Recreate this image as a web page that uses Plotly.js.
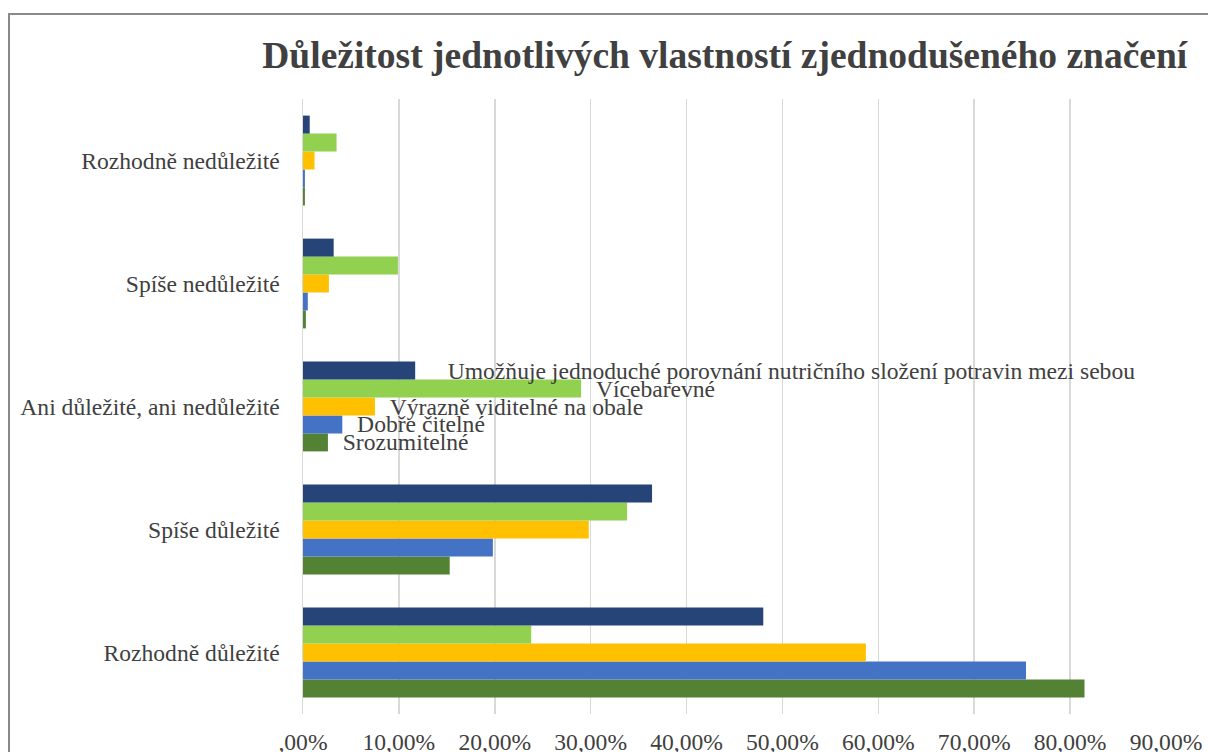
<!DOCTYPE html>
<html>
<head>
<meta charset="utf-8">
<script src="https://cdn.plot.ly/plotly-3.0.1.min.js"></script>
<style>
  html, body { margin: 0; padding: 0; background: #fff; overflow: hidden; }
  #chart { width: 1208px; height: 752px; }
  #frame { position: absolute; left: 8px; top: 13px; width: 1260px; height: 800px;
           border: 2px solid #8a8a8a; pointer-events: none; box-sizing: border-box; }
</style>
</head>
<body>
<div id="chart"></div>
<div id="frame"></div>
<script>
// Categories, bottom to top
const categories = [
  "Rozhodně důležité",
  "Spíše důležité",
  "Ani důležité, ani nedůležité",
  "Spíše nedůležité",
  "Rozhodně nedůležité"
];

// Series names (bottom bar in group first)
const seriesNames = [
  "Srozumitelné",
  "Dobře čitelné",
  "Výrazně viditelné na obale",
  "Vícebarevné",
  "Umožňuje jednoduché porovnání nutričního složení potravin mezi sebou"
];

// Values in percent, in category order above
const srozumitelne = [81.5, 15.3, 2.6, 0.3, 0.2];
const dobreCitelne = [75.4, 19.8, 4.1, 0.5, 0.2];
const vyrazneViditelne = [58.7, 29.8, 7.5, 2.7, 1.2];
const vicebarevne = [23.8, 33.8, 29.0, 9.9, 3.5];
const umoznuje = [48.0, 36.4, 11.7, 3.2, 0.7];

const seriesValues = [srozumitelne, dobreCitelne, vyrazneViditelne, vicebarevne, umoznuje];
const seriesColors = ["#548235", "#4472C4", "#FFC000", "#92D050", "#264478"];
const labelPad = ["\u00a0\u00a0", "\u00a0\u00a0", "\u00a0\u00a0", "\u00a0\u00a0", "\u00a0\u00a0\u00a0\u00a0\u00a0"];

// Category that carries the series-name data labels
const labelledCategory = "Ani důležité, ani nedůležité";

const tickVals = [0, 10, 20, 30, 40, 50, 60, 70, 80, 90];
const tickText = [",00%", "10,00%", "20,00%", "30,00%", "40,00%", "50,00%", "60,00%", "70,00%", "80,00%", "90,00%"];

const textFont = { family: "Liberation Serif, Times New Roman, serif", size: 23.6, color: "#404040" };

const traces = seriesNames.map((name, i) => ({
  type: "bar",
  orientation: "h",
  name: name,
  y: categories,
  x: seriesValues[i],
  marker: { color: seriesColors[i], line: { width: 0 } },
  text: categories.map(c => c === labelledCategory ? labelPad[i] + name : ""),
  textposition: "outside",
  constraintext: "none",
  cliponaxis: false,
  textfont: textFont,
  outsidetextfont: textFont,
  hoverinfo: "x+name"
}));

const layout = {
  width: 1208,
  height: 752,
  margin: { l: 303, r: 42, t: 99, b: 38 },
  paper_bgcolor: "#ffffff",
  plot_bgcolor: "#ffffff",
  showlegend: false,
  barmode: "group",
  bargap: 0.27,
  bargroupgap: 0,
  title: {
    text: "<b>Důležitost jednotlivých vlastností zjednodušeného značení</b>",
    font: { family: "Liberation Serif, Times New Roman, serif", size: 37.5, color: "#404040" },
    x: 0.6, xanchor: "center",
    y: 0.927, yanchor: "middle"
  },
  xaxis: {
    range: [0, 90],
    tickvals: tickVals,
    ticktext: tickText,
    showgrid: true,
    gridcolor: "#d9d9d9",
    gridwidth: 1.5,
    zeroline: false,
    showline: false,
    ticks: "outside",
    ticklen: 7,
    tickcolor: "rgba(0,0,0,0)",
    tickfont: textFont,
    fixedrange: true
  },
  yaxis: {
    categoryorder: "array",
    categoryarray: categories,
    showgrid: false,
    zeroline: false,
    showline: true,
    linecolor: "#d9d9d9",
    linewidth: 1.5,
    ticks: "outside",
    ticklen: 17,
    tickcolor: "rgba(0,0,0,0)",
    tickfont: textFont,
    fixedrange: true
  }
};

Plotly.newPlot("chart", traces, layout, { displayModeBar: false, staticPlot: true });
</script>
</body>
</html>
